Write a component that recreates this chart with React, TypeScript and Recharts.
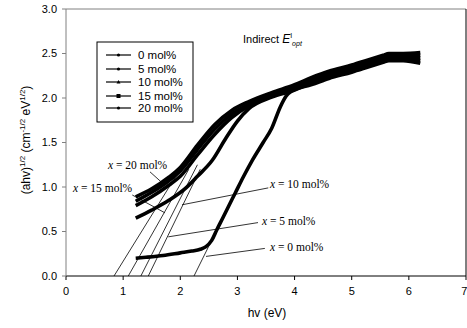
import React from 'react'
import {
  LineChart,
  Line,
  XAxis,
  YAxis,
  ReferenceLine,
  Customized,
} from 'recharts'

// series names (legend order)
const seriesNames = ['0 mol%', '5 mol%', '10 mol%', '15 mol%', '20 mol%']

// photon energy hv (eV) and (ahv)^1/2
const hv0 = [1.22, 1.4, 1.7, 2.0, 2.2, 2.35, 2.45, 2.55, 2.64, 2.75, 2.85, 2.96, 3.1, 3.26, 3.45, 3.6, 3.75, 3.85, 3.95, 4.3, 4.6, 5.0, 5.3, 5.55, 5.65, 5.9, 6.2]
const y0 = [0.2, 0.21, 0.23, 0.26, 0.28, 0.3, 0.33, 0.4, 0.52, 0.66, 0.79, 0.93, 1.11, 1.3, 1.5, 1.66, 1.9, 2.02, 2.08, 2.15, 2.22, 2.29, 2.35, 2.4, 2.42, 2.42, 2.39]

const hv5 = [1.22, 1.5, 1.8, 2.1, 2.3, 2.56, 2.8, 3.0, 3.2, 3.6, 4.0, 4.3, 4.6, 5.0, 5.3, 5.55, 5.65, 5.9, 6.2]
const y5 = [0.65, 0.74, 0.85, 0.99, 1.12, 1.3, 1.55, 1.74, 1.88, 2.01, 2.09, 2.17, 2.24, 2.31, 2.37, 2.42, 2.44, 2.44, 2.42]

const hvHigh = [1.22, 1.5, 1.8, 2.0, 2.3, 2.6, 2.9, 3.2, 3.6, 4.0, 4.3, 4.6, 5.0, 5.3, 5.55, 5.65, 5.9, 6.2]
const y10 = [0.79, 0.89, 1.02, 1.12, 1.36, 1.59, 1.78, 1.91, 2.02, 2.11, 2.19, 2.26, 2.33, 2.39, 2.44, 2.46, 2.46, 2.45]
const y15 = [0.84, 0.94, 1.07, 1.18, 1.42, 1.65, 1.82, 1.93, 2.04, 2.13, 2.21, 2.28, 2.35, 2.41, 2.46, 2.48, 2.48, 2.48]
const y20 = [0.89, 0.98, 1.11, 1.22, 1.47, 1.7, 1.86, 1.96, 2.06, 2.15, 2.23, 2.3, 2.37, 2.43, 2.48, 2.5, 2.5, 2.51]

// tangent lines: x-intercept (y = 0) and upper end
const tanStartX = [2.24, 1.44, 1.31, 1.09, 0.84]
const tanEndX = [3.05, 2.35, 2.3, 2.15, 1.95]
const tanEndY = [1.05, 1.2, 1.25, 1.2, 1.15]

// annotation leader lines [x1, y1, x2, y2]
const leaders = [
  [2.45, 0.22, 3.48, 0.31],
  [1.79, 0.44, 3.36, 0.6],
  [2.03, 0.8, 3.54, 0.99],
  [1.16, 0.91, 1.73, 0.71],
  [1.47, 1.17, 1.73, 1.02],
]
const annoText = ['0', '5', '10', '15', '20']

const xTicks = [0, 1, 2, 3, 4, 5, 6, 7]
const yTicks = [0, 0.5, 1, 1.5, 2, 2.5, 3]

const zip = (xs: number[], ys: number[]) => xs.map((x, i) => ({ x, y: ys[i] }))

const series = [
  zip(hv0, y0),
  zip(hv5, y5),
  zip(hvHigh, y10),
  zip(hvHigh, y15),
  zip(hvHigh, y20),
]

const sans = 'Arial, "Liberation Sans", Helvetica, sans-serif'
const serif = '"Times New Roman", "Liberation Serif", serif'

// pixel positions of the annotation labels
const annoPos = [
  [270, 251],
  [262, 225],
  [270, 188],
  [73, 192],
  [108, 169],
]

function Extras() {
  const rows = [55, 69, 82, 96, 108]
  return (
    <g>
      {/* legend box */}
      <rect x={97} y={42} width={96} height={80} fill="#fff" stroke="#000" strokeWidth={1} />
      {seriesNames.map((n, i) => (
        <g key={n}>
          <line x1={106} x2={131} y1={rows[i]} y2={rows[i]} stroke="#000" strokeWidth={1.2} />
          {i === 2 ? (
            <polygon points={`118.5,${rows[i] - 2} 116.5,${rows[i] + 1.5} 120.5,${rows[i] + 1.5}`} fill="#000" />
          ) : i === 3 ? (
            <rect x={116.5} y={rows[i] - 2} width={4} height={4} fill="#000" />
          ) : (
            <circle cx={118.5} cy={rows[i]} r={1.6} fill="#000" />
          )}
          <text x={138} y={rows[i] + 4} fontSize={11.5} fontFamily={sans} fill="#000">
            {n}
          </text>
        </g>
      ))}
      {/* title note */}
      <text x={243} y={43} fontSize={11} fontFamily={sans} fill="#000">
        Indirect{' '}
        <tspan fontStyle="italic" fontSize={12}>E</tspan>
        <tspan fontSize={7} dy={-5}>I</tspan>
        <tspan fontSize={7} dy={8} fontStyle="italic">opt</tspan>
      </text>
      {/* curve labels */}
      {annoText.map((t, i) => (
        <text key={t} x={annoPos[i][0]} y={annoPos[i][1]} fontSize={11.5} fontFamily={serif} fill="#000">
          <tspan fontStyle="italic">x</tspan> = {t} mol%
        </text>
      ))}
      {/* y axis title */}
      <text transform="translate(30,140) rotate(-90)" textAnchor="middle" fontSize={12} fontFamily={sans} fill="#000">
        (ahv)
        <tspan fontSize={8} dy={-5}>1/2</tspan>
        <tspan dy={5}> (cm</tspan>
        <tspan fontSize={8} dy={-5}>-1/2</tspan>
        <tspan dy={5}> eV</tspan>
        <tspan fontSize={8} dy={-5}>1/2</tspan>
        <tspan dy={5}>)</tspan>
      </text>
      {/* x axis title */}
      <text x={267} y={317} textAnchor="middle" fontSize={12} fontFamily={sans} fill="#000">
        hv (eV)
      </text>
    </g>
  )
}

export default function App() {
  return (
    <div style={{ position: 'absolute', left: 0, top: 0, background: '#fff' }}>
      <LineChart width={467} height={328} margin={{ top: 9, right: 1, left: 0, bottom: 0 }}>
        <XAxis
          type="number"
          dataKey="x"
          domain={[0, 7]}
          ticks={xTicks}
          allowDataOverflow
          height={52}
          stroke="#000"
          tickSize={4}
          tickMargin={7}
          tick={{ fill: '#000', fontSize: 11, fontFamily: sans }}
        />
        <YAxis
          type="number"
          dataKey="y"
          domain={[0, 3]}
          ticks={yTicks}
          allowDataOverflow
          width={66}
          stroke="#808080"
          tickSize={4}
          tickMargin={5}
          tickFormatter={(v: number) => v.toFixed(1)}
          tick={{ fill: '#000', fontSize: 11, fontFamily: sans }}
        />
        <ReferenceLine y={3} stroke="#808080" strokeWidth={1} />
        <ReferenceLine x={7} stroke="#000" strokeWidth={1} />
        {tanStartX.map((x0, i) => (
          <ReferenceLine
            key={'t' + i}
            segment={[{ x: x0, y: 0 }, { x: tanEndX[i], y: tanEndY[i] }]}
            stroke="#000"
            strokeWidth={0.8}
          />
        ))}
        {leaders.map((l, i) => (
          <ReferenceLine
            key={'l' + i}
            segment={[{ x: l[0], y: l[1] }, { x: l[2], y: l[3] }]}
            stroke="#000"
            strokeWidth={0.8}
          />
        ))}
        {series.map((d, i) => (
          <Line
            key={seriesNames[i]}
            data={d}
            dataKey="y"
            type="monotone"
            stroke="#000"
            strokeWidth={3.6}
            dot={false}
            isAnimationActive={false}
          />
        ))}
        <Customized component={<Extras />} />
      </LineChart>
    </div>
  )
}
